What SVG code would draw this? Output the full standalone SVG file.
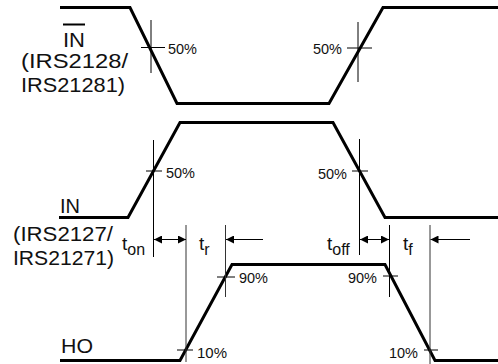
<svg xmlns="http://www.w3.org/2000/svg" width="498" height="364" viewBox="0 0 498 364">
<style>
.wave{fill:none;stroke:#000;stroke-width:3;stroke-linejoin:miter}
.thin{fill:none;stroke:#000;stroke-width:1}
.ref{fill:none;stroke:#333;stroke-width:1}
.lbl{font-family:"Liberation Sans",Arial,sans-serif;font-size:20px;fill:#111}
.pct{font-family:"Liberation Sans",Arial,sans-serif;font-size:15px;fill:#111}
.tm{font-family:"Liberation Sans",Arial,sans-serif;font-size:19px;fill:#111}
</style>
<defs>
<marker id="ah" viewBox="0 0 8 8" refX="8" refY="4" markerWidth="8" markerHeight="8" markerUnits="userSpaceOnUse" orient="auto-start-reverse">
<path d="M0,0 L8,4 L0,8 z" fill="#000"/>
</marker>
</defs>
<rect width="498" height="364" fill="#fff"/>
<g id="in-bar">
<path class="wave" d="M60,7.5 L130,7.5 L177,103.5 L329,103.5 L383,7.5 L498,7.5"/>
<line class="thin" x1="151" y1="20" x2="151" y2="73"/>
<line class="thin" x1="141" y1="47.5" x2="165" y2="47.5"/>
<line class="thin" x1="358" y1="22" x2="358" y2="82"/>
<line class="thin" x1="347" y1="48" x2="372" y2="48"/>
<text class="pct" x="168" y="54" textLength="29" lengthAdjust="spacingAndGlyphs">50%</text>
<text class="pct" x="313" y="54" textLength="29" lengthAdjust="spacingAndGlyphs">50%</text>
<line x1="63" y1="24.5" x2="85" y2="24.5" stroke="#000" stroke-width="2"/>
<text class="lbl" x="63" y="47" textLength="22" lengthAdjust="spacingAndGlyphs">IN</text>
<text class="lbl" x="21" y="68" textLength="107" lengthAdjust="spacingAndGlyphs">(IRS2128/</text>
<text class="lbl" x="21" y="92" textLength="104" lengthAdjust="spacingAndGlyphs">IRS21281)</text>
</g>
<g id="in">
<path class="wave" d="M59,217.5 L128,217.5 L180,122.5 L333,122.5 L385,217.5 L498,217.5"/>
<line class="thin" x1="146" y1="171" x2="162" y2="171"/>
<line class="thin" x1="352" y1="171" x2="368" y2="171"/>
<text class="pct" x="166" y="178" textLength="29" lengthAdjust="spacingAndGlyphs">50%</text>
<text class="pct" x="318" y="179" textLength="29" lengthAdjust="spacingAndGlyphs">50%</text>
<text class="lbl" x="60" y="213" textLength="20" lengthAdjust="spacingAndGlyphs">IN</text>
<text class="lbl" x="13" y="241" textLength="100" lengthAdjust="spacingAndGlyphs">(IRS2127/</text>
<text class="lbl" x="13" y="265" textLength="101" lengthAdjust="spacingAndGlyphs">IRS21271)</text>
</g>
<g id="ho">
<path class="wave" d="M60,360.5 L180,360.5 L232,264.5 L385,264.5 L435,360.5 L498,360.5"/>
<line class="thin" x1="177" y1="350" x2="193" y2="350"/>
<line class="thin" x1="217" y1="277" x2="235" y2="277"/>
<line class="thin" x1="383" y1="276" x2="398" y2="276"/>
<line class="thin" x1="424" y1="350" x2="438" y2="350"/>
<text class="pct" x="239" y="283" textLength="29" lengthAdjust="spacingAndGlyphs">90%</text>
<text class="pct" x="348" y="283" textLength="29" lengthAdjust="spacingAndGlyphs">90%</text>
<text class="pct" x="197" y="358" textLength="30" lengthAdjust="spacingAndGlyphs">10%</text>
<text class="pct" x="389" y="358" textLength="29" lengthAdjust="spacingAndGlyphs">10%</text>
<text class="lbl" x="61" y="353" textLength="32" lengthAdjust="spacingAndGlyphs">HO</text>
</g>
<g id="timing-labels">
<text class="tm" x="122" y="250">t<tspan font-size="16" dy="4.5">on</tspan></text>
<text class="tm" x="199" y="250">t<tspan font-size="16" dy="4.5">r</tspan></text>
<text class="tm" x="327" y="250">t<tspan font-size="16" dy="4.5">off</tspan></text>
<text class="tm" x="403" y="250">t<tspan font-size="16" dy="4.5">f</tspan></text>
</g>
<g id="connectors">
<line class="thin" x1="153.5" y1="140" x2="153.5" y2="257"/>
<line class="ref" x1="186" y1="225" x2="186" y2="362"/>
<line class="ref" x1="225.5" y1="225" x2="225.5" y2="297"/>
<line class="thin" x1="359.5" y1="139" x2="359.5" y2="255"/>
<line class="thin" x1="389.5" y1="225" x2="389.5" y2="297"/>
<line class="ref" x1="430" y1="225" x2="430" y2="364"/>
<line class="thin" x1="154" y1="239.5" x2="186" y2="239.5" marker-start="url(#ah)" marker-end="url(#ah)"/>
<line class="thin" x1="263" y1="239.5" x2="226" y2="239.5" marker-end="url(#ah)"/>
<line class="thin" x1="360" y1="239.5" x2="389" y2="239.5" marker-start="url(#ah)" marker-end="url(#ah)"/>
<line class="thin" x1="470" y1="239.5" x2="430.5" y2="239.5" marker-end="url(#ah)"/>
</g>
</svg>
